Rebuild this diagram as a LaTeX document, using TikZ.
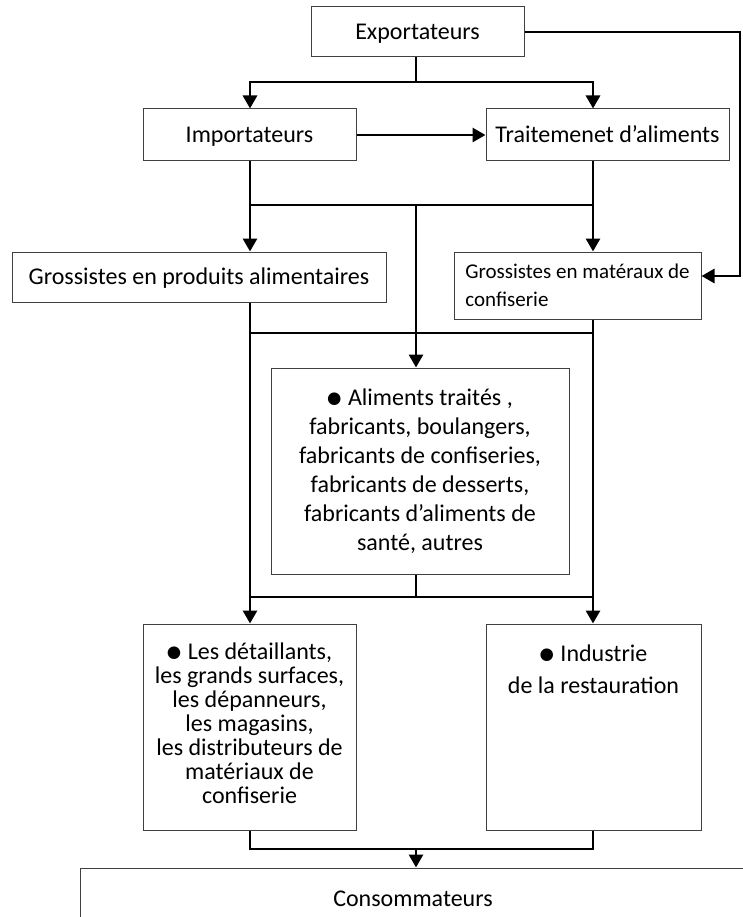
\documentclass[tikz,border=0pt]{standalone}
\usepackage{fontspec}
\setmainfont{Carlito}
\newfontfamily\symfont{DejaVu Sans}
\usetikzlibrary{arrows.meta,positioning}
\newcommand\bul{\raisebox{2pt}{\symfont\fontsize{16.5}{24}\selectfont ●}\hspace{1pt}}

\tikzset{
	box/.style={draw=black!75, line width=1pt, fill=white, inner sep=0pt, align=center, font=\fontsize{24}{29}\selectfont},
	oneline/.style={text height=18pt, text depth=3pt},
	small/.style={font=\fontsize{21}{28}\selectfont},
	tight/.style={font=\fontsize{24}{24}\selectfont},
	loose/.style={inner sep=0pt, align=center, font=\fontsize{24}{32}\selectfont},
	link/.style={line width=2.9pt},
	arr/.style={link, -{Triangle[length=13pt,width=14pt]}}
}

\begin{document}
\begin{tikzpicture}[x=1pt, y=-1pt]
		%%%%% START %%%%%
		\useasboundingbox (0,0) rectangle (742,917);
		
		\coordinate (colL) at (250,0);
		\coordinate (colM) at (416,0);
		\coordinate (colR) at (593,0);
		\coordinate (far) at (740,0);
		\coordinate (r0) at (0,276);
		\coordinate (r1) at (0,82);
		\coordinate (r2) at (0,205);
		\coordinate (r3) at (0,333);
		\coordinate (r4) at (0,597);
		\coordinate (r5) at (0,849);
		
		\node[box, oneline, minimum width=213pt, minimum height=50pt] (exp) at (417.5,32) {Exportateurs};
		\node[box, oneline, minimum width=213pt, minimum height=52pt] (imp) at (249.5,135) {Importateurs};
		\node[box, oneline, minimum width=243pt, minimum height=52pt] (trait) at (607.5,135) {Traitemenet d’aliments};
		
		\node[box, oneline, minimum width=374pt, minimum height=50pt] (grosA) at (199,277) {Grossistes en produits alimentaires};
		\node[box, small, align=left, minimum width=247pt, minimum height=67pt] (grosM) at (577.5,285.5) {Grossistes en matéraux de\\confiserie};
		
		\node[box, minimum width=298pt, minimum height=206pt] (alim) at (420,471) {\bul\ Aliments traités ,\\fabricants, boulangers,\\fabricants de confiseries,\\fabricants de desserts,\\fabricants d’aliments de\\santé, autres};
		
		\node[box, minimum width=213pt, minimum height=206pt] (detail) at (249.5,727) {};
		\node[box, tight, draw=none, fill=none, minimum size=0pt] (detailT) at (249.5,723) {\bul\ Les détaillants,\\les grands surfaces,\\les dépanneurs,\\les magasins,\\les distributeurs de\\matériaux de\\confiserie};
		\node[box, minimum width=215pt, minimum height=206pt] (indus) at (593.5,727) {};
		\node[loose, below=21pt of indus.north] (indusT) {\bul\ Industrie\\de la restauration};
		
		\node[box, oneline, minimum width=666pt, minimum height=62pt] (cons) at (413,899) {Consommateurs};
		
		\draw[link] (colM |- exp.south) -- (colM |- r1);
		\draw[arr] (colM |- r1) -| (colL |- imp.north);
		\draw[arr] (colM |- r1) -| (colR |- trait.north);
		\draw[arr] (exp.east) -- (far |- exp.east) |- (grosM.east |- r0);
		\draw[arr] (imp.east) -- (trait.west);
		
		\draw[arr] (colL |- imp.south) -- (colL |- grosA.north);
		\draw[arr] (colR |- trait.south) -- (colR |- grosM.north);
		\draw[link] (colL |- r2) -- (colR |- r2);
		\draw[arr] (colM |- r2) -- (colM |- alim.north);
		
		\draw[arr] (colL |- grosA.south) -- (colL |- detail.north);
		\draw[arr] (colR |- grosM.south) -- (colR |- indus.north);
		\draw[link] (colL |- r3) -- (colR |- r3);
		\draw[link] (colM |- alim.south) -- (colM |- r4);
		\draw[link] (colL |- r4) -- (colR |- r4);
		
		\draw[link] (colL |- detail.south) |- (colR |- r5) -- (colR |- indus.south);
		\draw[arr] (colM |- r5) -- (colM |- cons.north);
		%%%%% END %%%%%
\end{tikzpicture}
\end{document}
